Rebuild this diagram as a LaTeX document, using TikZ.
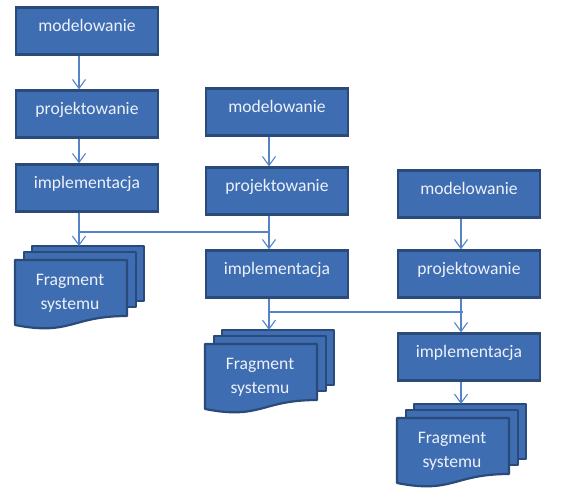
\documentclass[tikz,border=0pt]{standalone}
\usepackage{fontspec}
\setmainfont{Carlito}
\usetikzlibrary{arrows.meta}

\definecolor{boxblue}{RGB}{63,109,178}
\definecolor{boxedge}{RGB}{42,74,122}
\definecolor{linkblue}{RGB}{84,131,200}
\definecolor{boxtext}{RGB}{236,241,250}

% one stack of three pages; #1 = name, #2 = top left corner of the front page
\newcommand{\fragstack}[2]{%
    \begin{scope}[shift={#2}]
        \draw [page] (17,-14) rectangle (129,41);
        \draw [page] (9,-8) rectangle (121,47);
        \draw [page] (0,0) -- (112,0) -- (112,56) .. controls (56,56) and (56,76) .. (0,65) -- cycle;
        \node [fragtext] (#1) at (55,33) {Fragment\\systemu};
        \coordinate (#1-in) at (64,-14);
    \end{scope}
}

\begin{document}
\begin{tikzpicture}[x=1pt,y=-1pt,
        step box/.style={draw=boxedge, fill=boxblue, line width=2.2pt, minimum width=142pt,
            minimum height=47pt, text=boxtext, font=\fontsize{17.6}{20}\selectfont,
            text height=8pt, text depth=8pt, inner sep=0pt},
        page/.style={draw=boxedge, fill=boxblue, line width=2.2pt, line join=round},
        fragtext/.style={text=boxtext, font=\fontsize{17.6}{24}\selectfont, align=center, inner sep=0pt},
        link/.style={draw=linkblue, line width=1.1pt, -{Straight Barb[length=9pt,width=13pt]}}]
    \useasboundingbox (0,0) rectangle (565,496);

    % first pass
    \node [step box] (m1) at (87,31) {modelowanie};
    \node [step box] (p1) at (87,114) {projektowanie};
    \node [step box] (i1) at (87,188) {implementacja};
    \fragstack{frag1}{(15,260)}

    % second pass
    \node [step box] (m2) at (277,112) {modelowanie};
    \node [step box] (p2) at (277,191) {projektowanie};
    \node [step box] (i2) at (277,274) {implementacja};
    \fragstack{frag2}{(205,344)}

    % third pass
    \node [step box] (m3) at (469,194) {modelowanie};
    \node [step box] (p3) at (469,274) {projektowanie};
    \node [step box] (i3) at (469,357) {implementacja};
    \fragstack{frag3}{(397,418)}

    % arrows down each column
    \draw [link] ([xshift=-8pt]m1.south) -- ([xshift=-8pt]p1.north);
    \draw [link] ([xshift=-8pt]p1.south) -- ([xshift=-8pt]i1.north);
    \draw [link] ([xshift=-8pt]i1.south) -- (frag1-in);
    \draw [link] ([xshift=-8pt]m2.south) -- ([xshift=-8pt]p2.north);
    \draw [link] ([xshift=-8pt]p2.south) -- ([xshift=-8pt]i2.north);
    \draw [link] ([xshift=-8pt]i2.south) -- (frag2-in);
    \draw [link] ([xshift=-8pt]m3.south) -- ([xshift=-8pt]p3.north);
    \draw [link] ([xshift=-8pt]p3.south) -- ([xshift=-8pt]i3.north);
    \draw [link] ([xshift=-8pt]i3.south) -- (frag3-in);

    % links from one pass to the next
    \coordinate (j1) at (79,232);
    \coordinate (j2) at (269,232);
    \coordinate (j3) at (269,312);
    \coordinate (j4) at (463,312);
    \draw [link, -] (j1) -- (j2);
    \draw [link, -] (j3) -- (j4);
\end{tikzpicture}
\end{document}
